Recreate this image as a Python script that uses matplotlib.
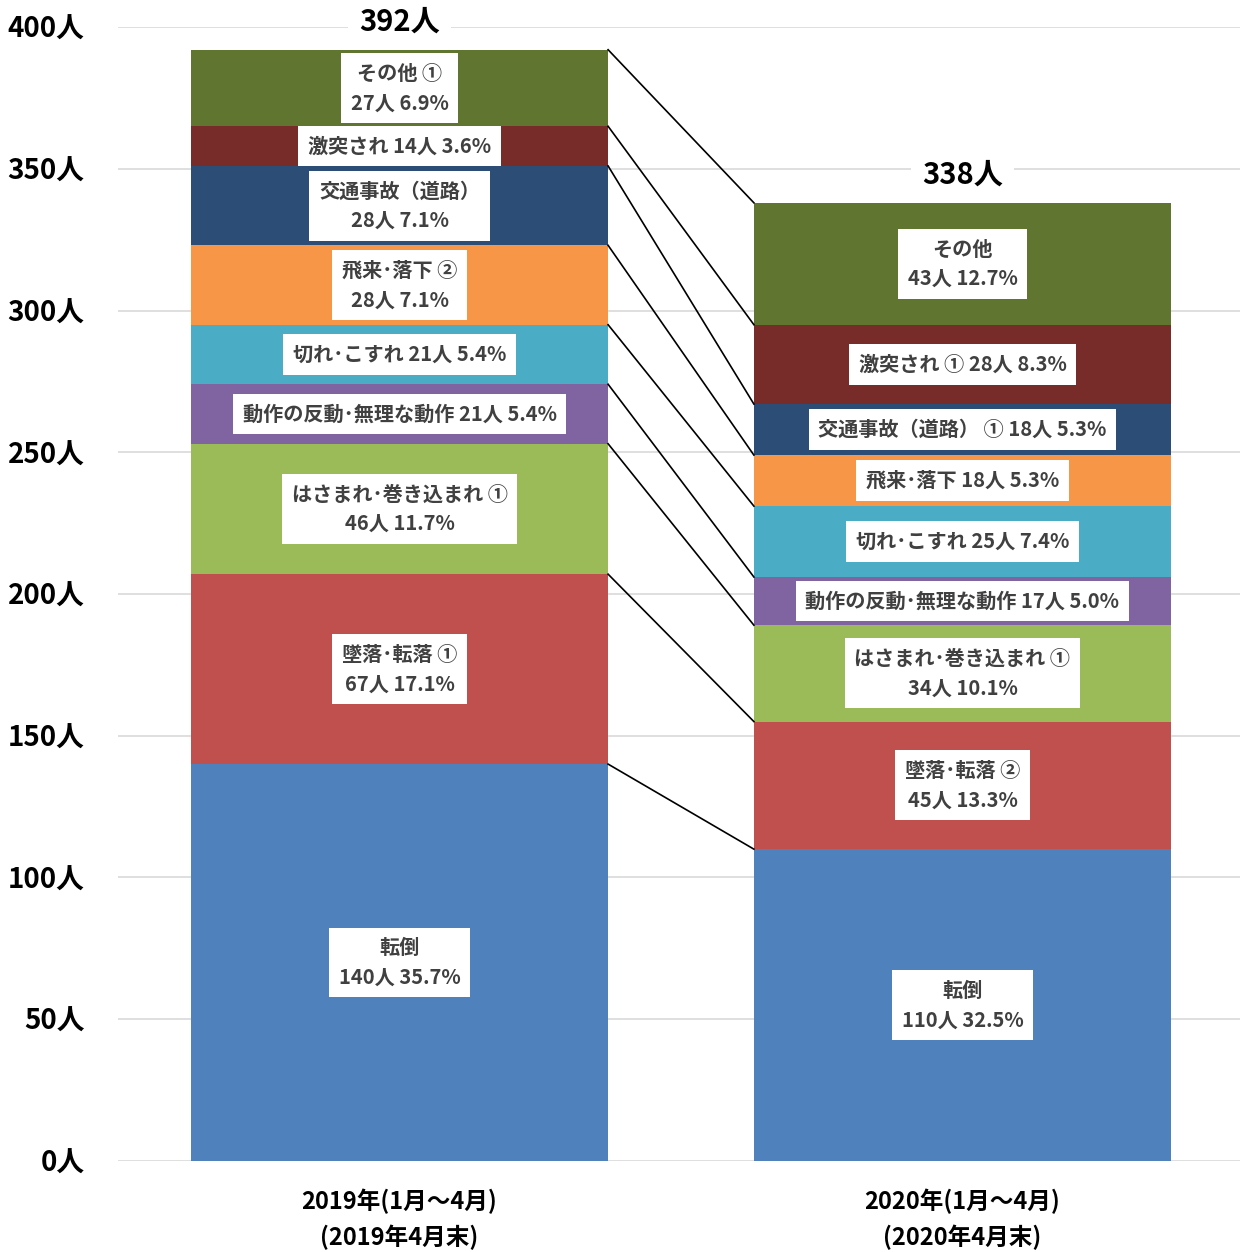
import matplotlib.pyplot as plt
import numpy as np

plt.rcParams['font.family'] = ['Noto Sans CJK JP', 'DejaVu Sans']

years = ['2019年(1月～4月)\n(2019年4月末)', '2020年(1月～4月)\n(2020年4月末)']
totals = [392, 338]

colors = ['#4F81BD', '#C0504D', '#9BBB59', '#8064A2', '#4BACC6',
          '#F79646', '#2C4D75', '#772C2A', '#5F7530']

vals_2019 = [140, 67, 46, 21, 21, 28, 28, 14, 27]
vals_2020 = [110, 45, 34, 17, 25, 18, 18, 28, 43]

labels_2019 = ['転倒\n140人 35.7%', '墜落･転落 ①\n67人 17.1%',
               'はさまれ･巻き込まれ ①\n46人 11.7%', '動作の反動･無理な動作 21人 5.4%',
               '切れ･こすれ 21人 5.4%', '飛来･落下 ②\n28人 7.1%',
               '交通事故（道路）\n28人 7.1%', '激突され 14人 3.6%', 'その他 ①\n27人 6.9%']
labels_2020 = ['転倒\n110人 32.5%', '墜落･転落 ②\n45人 13.3%',
               'はさまれ･巻き込まれ ①\n34人 10.1%', '動作の反動･無理な動作 17人 5.0%',
               '切れ･こすれ 25人 7.4%', '飛来･落下 18人 5.3%',
               '交通事故（道路） ① 18人 5.3%', '激突され ① 28人 8.3%', 'その他\n43人 12.7%']

fig = plt.figure(figsize=(12.4, 12.52), dpi=100)
ax = fig.add_axes([0.0952, 0.0727, 0.9048, 0.9057])

width = 0.741
x = np.array([0, 1])
data = [vals_2019, vals_2020]
labels = [labels_2019, labels_2020]

for i in range(2):
    bottom = 0
    for j, v in enumerate(data[i]):
        ax.bar(x[i], v, width, bottom=bottom, color=colors[j], zorder=2)
        ax.text(x[i], bottom + v / 2, labels[i][j], ha='center', va='center',
                fontsize=14.5, fontweight='bold', color='#404040', linespacing=1.5,
                bbox=dict(facecolor='white', edgecolor='none', pad=7), zorder=4)
        bottom += v
    ax.text(x[i], totals[i] + 10, f'{totals[i]}人', ha='center', va='center',
            fontsize=21, fontweight='bold', color='black',
            bbox=dict(facecolor='white', edgecolor='none', pad=8), zorder=4)

# connector lines between bars
c19 = np.cumsum(vals_2019)
c20 = np.cumsum(vals_2020)
for a, b in zip(c19, c20):
    ax.plot([x[0] + width / 2, x[1] - width / 2], [a, b], color='black', lw=1.2, zorder=3)

ax.set_xlim(-0.5, 1.493)
ax.set_ylim(0, 400)
yt = np.arange(0, 401, 50)
ax.set_yticks(yt)
ax.set_yticklabels([f'{t}人' for t in yt], fontsize=20, fontweight='bold')
ax.set_xticks(x)
ax.set_xticklabels(years, fontsize=17, fontweight='bold', linespacing=1.5)
ax.tick_params(length=0, pad=24, axis='y')
ax.tick_params(length=0, pad=20, axis='x')
ax.grid(axis='y', color='#D9D9D9', lw=1.2, zorder=0)
for s in ax.spines.values():
    s.set_visible(False)

plt.savefig('out.png')
